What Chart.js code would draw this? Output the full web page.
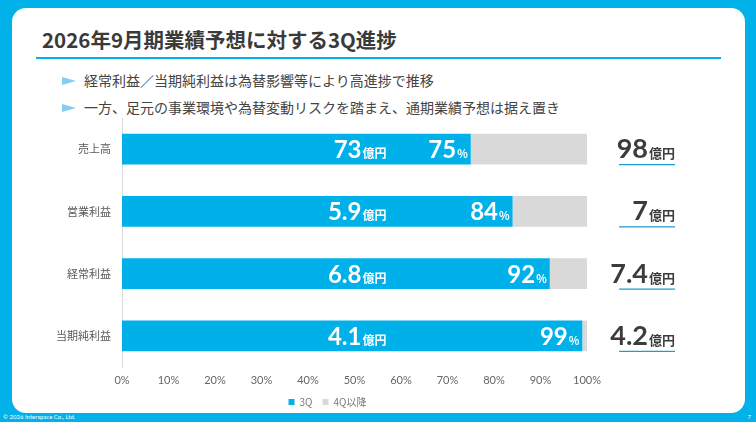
<!DOCTYPE html>
<html lang="ja">
<head>
<meta charset="utf-8">
<script src="https://cdn.jsdelivr.net/npm/chart.js@4"></script>
<style>
    html, body { margin: 0; padding: 0; }
    body {
        width: 756px; height: 422px; overflow: hidden;
        background: #00b1ea; position: relative;
        font-family: "Noto Sans CJK JP", "Noto Sans", sans-serif;
    }
    #panel {
        position: absolute; left: 12px; top: 8px; width: 733px; height: 405px;
        background: #fff; border-radius: 14px;
    }
    #title {
        position: absolute; left: 42px; top: 25px;
        font-size: 20.5px; font-weight: bold; color: #3a3a3a; line-height: 28px;
    }
    #titleLine {
        position: absolute; left: 36px; top: 57px; width: 685px; height: 2px; background: #00b1ea;
    }
    .bullet {
        position: absolute; left: 62px; font-size: 14px; color: #444; line-height: 18px; white-space: nowrap;
    }
    .bullet::before {
        content: ""; display: inline-block; width: 0; height: 0; margin-right: 8px;
        border-top: 4px solid transparent; border-bottom: 4px solid transparent;
        border-left: 14px solid #86cdef; vertical-align: 1px;
    }
    #footer {
        position: absolute; left: 3px; top: 413px; font-size: 6px; color: #fff; font-family: "Lato", sans-serif;
    }
    #pageNo {
        position: absolute; right: 5px; top: 413px; font-size: 6px; color: #fff; font-family: "Lato", sans-serif;
    }
    #chartWrap { position: absolute; left: 0; top: 0; width: 756px; height: 422px; }
</style>
</head>
<body>
<div id="panel"></div>
<div id="title">2026年9月期業績予想に対する3Q進捗</div>
<div id="titleLine"></div>
<div class="bullet" style="top: 71px;">経常利益／当期純利益は為替影響等により高進捗で推移</div>
<div class="bullet" style="top: 98px;">一方、足元の事業環境や為替変動リスクを踏まえ、通期業績予想は据え置き</div>
<div id="footer">© 2026 Interspace Co., Ltd.</div>
<div id="pageNo">7</div>
<div id="chartWrap"><canvas id="progressChart" width="756" height="422"></canvas></div>

<script>
// chart data
const categories = ['売上高', '営業利益', '経常利益', '当期純利益'];
const progressPct = [75, 84, 92, 99];       // 3Q progress (%)
const remainingPct = [25, 16, 8, 1];        // 4Q以降 (%)
const actualOku = ['73', '5.9', '6.8', '4.1'];    // 3Q累計 (億円)
const forecastOku = ['98', '7', '7.4', '4.2'];    // 通期予想 (億円)
const seriesNames = ['3Q', '4Q以降'];
const xTicks = [0, 10, 20, 30, 40, 50, 60, 70, 80, 90, 100];

const BLUE = '#00b1e9';
const GRAY = '#d9d9d9';
const NUM_FONT = '"Lato", "Noto Sans", sans-serif';
const JP_FONT = '"Noto Sans CJK JP", sans-serif';

// draws a bold number followed by a small unit
function drawNumUnit(ctx, num, unit, x, y, numSize, unitSize, color, align) {
    ctx.save();
    ctx.fillStyle = color;
    ctx.textBaseline = 'alphabetic';
    ctx.font = `bold ${numSize}px ${NUM_FONT}`;
    const numW = ctx.measureText(num).width;
    ctx.font = `bold ${unitSize}px ${JP_FONT}`;
    const unitW = ctx.measureText(unit).width;
    let left = align === 'right' ? x - numW - unitW - 1 : x;
    ctx.font = `bold ${numSize}px ${NUM_FONT}`;
    ctx.textAlign = 'left';
    ctx.fillText(num, left, y);
    ctx.font = `bold ${unitSize}px ${JP_FONT}`;
    ctx.fillText(unit, left + numW + 1, y);
    ctx.restore();
}

const barLabels = {
    id: 'barLabels',
    afterLayout(chart) {
        // legend sits a little right of the plot centre in the slide
        if (chart.legend) {
            chart.legend.left += 9;
            chart.legend.right += 9;
        }
    },
    afterDatasetsDraw(chart) {
        const ctx = chart.ctx;
        const meta = chart.getDatasetMeta(0);
        const xScale = chart.scales.x;
        const area = chart.chartArea;
        meta.data.forEach((bar, i) => {
            const y = bar.y;
            // 3Q amount, number ends near the middle of the axis
            ctx.save();
            ctx.font = `bold 24px ${NUM_FONT}`;
            const w = ctx.measureText(actualOku[i]).width;
            ctx.restore();
            drawNumUnit(ctx, actualOku[i], '億円', xScale.getPixelForValue(51.5) - w, y + 9, 24, 12, '#fff', 'left');
            // progress %
            drawNumUnit(ctx, String(progressPct[i]), '%', bar.x - 3, y + 9, 24, 11, '#fff', 'right');
            // full-year forecast on the right
            const rx = area.right + 88;
            drawNumUnit(ctx, forecastOku[i], '億円', rx, y + 9, 27, 13, '#3c3c3c', 'right');
            ctx.save();
            ctx.strokeStyle = '#1a9fd0';
            ctx.lineWidth = 1.3;
            ctx.beginPath();
            ctx.moveTo(rx - 56, y + 15.5);
            ctx.lineTo(rx, y + 15.5);
            ctx.stroke();
            ctx.restore();
        });
    }
};

const ctx = document.getElementById('progressChart').getContext('2d');
new Chart(ctx, {
    type: 'bar',
    data: {
        labels: categories,
        datasets: [
            { label: seriesNames[0], data: progressPct, backgroundColor: BLUE },
            { label: seriesNames[1], data: remainingPct, backgroundColor: GRAY }
        ]
    },
    options: {
        indexAxis: 'y',
        responsive: false,
        animation: false,
        layout: { padding: { left: 50, right: 169, top: 118, bottom: 5 } },
        datasets: { bar: { barPercentage: 0.98, categoryPercentage: 0.5 } },
        scales: {
            x: {
                stacked: true,
                min: 0,
                max: 100,
                afterBuildTicks: scale => { scale.ticks = xTicks.map(v => ({ value: v })); },
                grid: { display: false, drawTicks: false },
                border: { display: false },
                ticks: {
                    padding: 7,
                    color: '#666',
                    font: { family: NUM_FONT, size: 11 },
                    callback: v => v + '%'
                },
                afterFit: scale => { scale.height = 20; }
            },
            y: {
                stacked: true,
                grid: { display: false, drawTicks: false },
                border: { display: true, color: '#d9d9d9', width: 1 },
                ticks: {
                    padding: 11,
                    color: '#595959',
                    font: { family: JP_FONT, size: 11 }
                },
                afterFit: scale => { scale.width = 72; }
            }
        },
        plugins: {
            legend: {
                position: 'bottom',
                labels: {
                    boxWidth: 6,
                    boxHeight: 6,
                    padding: 10,
                    color: '#777',
                    font: { family: JP_FONT, size: 10 }
                }
            },
            tooltip: { enabled: false }
        }
    },
    plugins: [barLabels]
});
</script>
</body>
</html>
